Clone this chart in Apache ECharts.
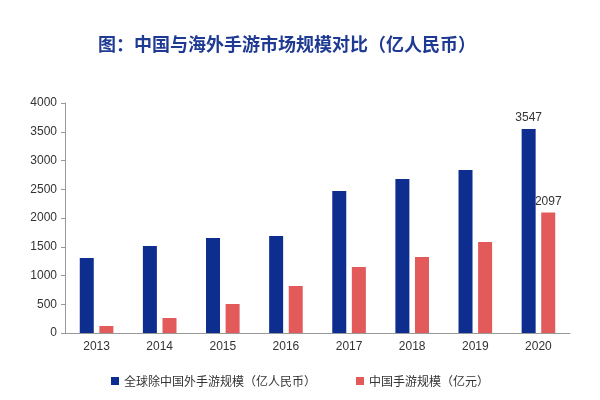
<!DOCTYPE html>
<html><head><meta charset="utf-8">
<script src="https://cdn.jsdelivr.net/npm/echarts@6/dist/echarts.min.js"></script>
<style>html,body{margin:0;padding:0;background:#fff}#c{width:600px;height:400px}</style>
</head><body><div id="c"></div>
<script>
const categories=['2013','2014','2015','2016','2017','2018','2019','2020'];
const globalValues=[1304,1513,1652,1687,2470,2678,2835,3547];
const chinaValues=[122,261,504,817,1148,1322,1583,2097];
const seriesNames=['全球除中国外手游规模（亿人民币）','中国手游规模（亿元）'];
const chart=echarts.init(document.getElementById('c'));
const lbl=()=>({show:true,position:'top',color:'#333',fontSize:12,fontFamily:'Liberation Sans',formatter:p=>p.dataIndex===categories.length-1?String(p.value):''});
chart.setOption({
  animation:false,
  textStyle:{fontFamily:'Noto Sans CJK SC'},
  title:{text:'图：中国与海外手游市场规模对比（亿人民币）',left:282,top:30,textAlign:'center',textStyle:{color:'#1f3a93',fontSize:18,fontWeight:'bold',fontFamily:'Noto Sans CJK SC'}},
  legend:{bottom:8,left:'center',itemWidth:8,itemHeight:8,itemGap:40,icon:'rect',textStyle:{fontSize:12,color:'#333'}},
  grid:{left:65,right:30,top:103,bottom:67},
  xAxis:{type:'category',data:categories,axisTick:{show:false},axisLine:{lineStyle:{color:'#999'}},axisLabel:{color:'#333',fontSize:12,fontFamily:'Liberation Sans'}},
  yAxis:{type:'value',min:0,max:4000,interval:500,splitLine:{show:false},axisLine:{show:true,lineStyle:{color:'#999'}},axisTick:{show:true,length:4},axisLabel:{color:'#333',fontSize:12,fontFamily:'Liberation Sans',formatter:v=>String(v)}},
  series:[
    {name:seriesNames[0],type:'bar',data:globalValues,barWidth:14,barGap:'40%',itemStyle:{color:'#0d2d8f'},label:lbl()},
    {name:seriesNames[1],type:'bar',data:chinaValues,barWidth:14,itemStyle:{color:'#e35a5a'},label:lbl()}
  ]
});
</script></body></html>
